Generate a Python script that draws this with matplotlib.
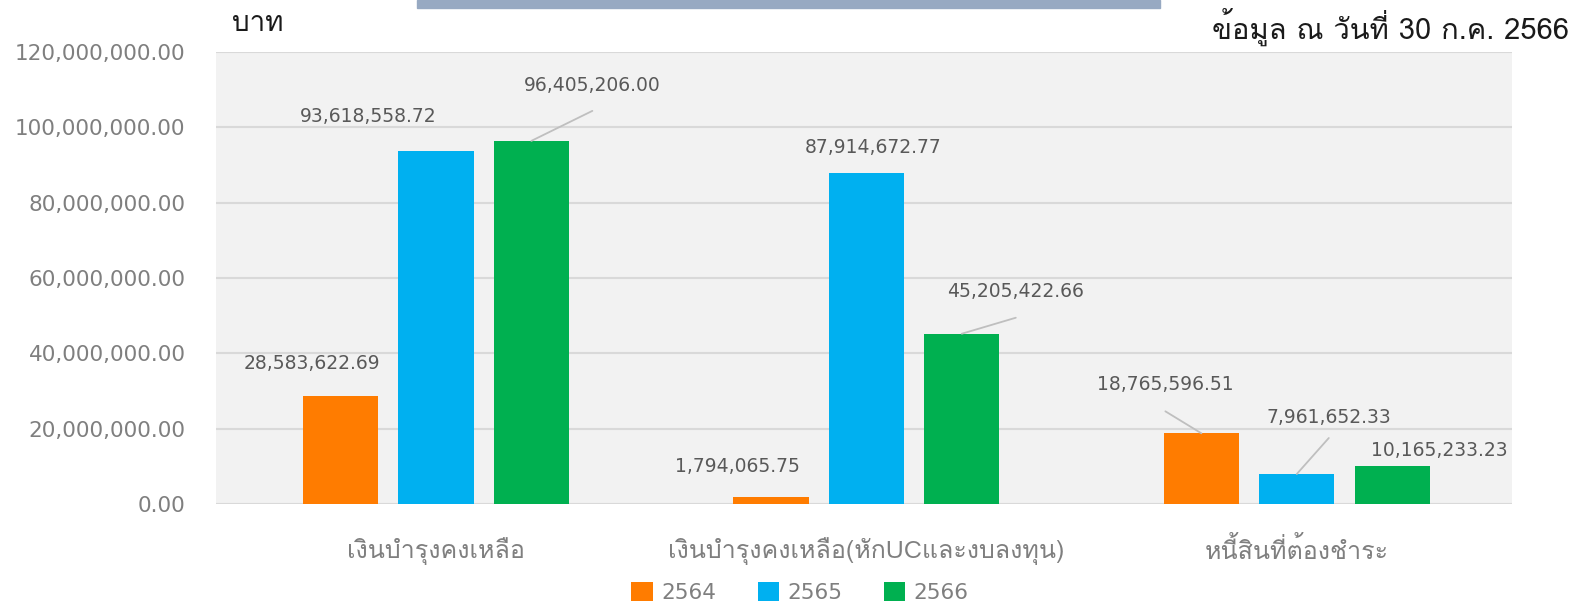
"""
Thai hospital finance bar chart: remaining maintenance funds by year.
"""

import matplotlib
matplotlib.use("Agg")
import matplotlib.pyplot as plt
from matplotlib import font_manager
from matplotlib.ft2font import FT2Font
from matplotlib.patches import Patch, Rectangle

# Data
categories = ["เงินบำรุงคงเหลือ",
              "เงินบำรุงคงเหลือ(หักUCและงบลงทุน)",
              "หนี้สินที่ต้องชำระ"]
years = ["2564", "2565", "2566"]
values_2564 = [28583622.69, 1794065.75, 18765596.51]
values_2565 = [93618558.72, 87914672.77, 7961652.33]
values_2566 = [96405206.00, 45205422.66, 10165233.23]
yticks = [0, 20e6, 40e6, 60e6, 80e6, 100e6, 120e6]

colors = ["#ff7c00", "#00b0f0", "#00b050"]


def find_thai_font():
    # pick any installed font that has Thai glyphs
    for f in font_manager.fontManager.ttflist:
        try:
            if 0x0E07 in FT2Font(f.fname).get_charmap():
                return f.name
        except Exception:
            pass
    return None


thai = find_thai_font()
thai_family = [thai, "DejaVu Sans"] if thai else ["DejaVu Sans"]
num_family = ["DejaVu Sans"]
plt.rcParams["font.family"] = thai_family

fig = plt.figure(figsize=(15.75, 6.08), dpi=100)
ax = fig.add_axes([216 / 1575, 1 - 504 / 608, (1512 - 216) / 1575, (504 - 52) / 608])
ax.set_facecolor("#f2f2f2")

# Bars
series = [values_2564, values_2565, values_2566]
pitch = 0.2217
width = 0.175
for i, vals in enumerate(series):
    xs = [c + (i - 1) * pitch for c in range(len(categories))]
    ax.bar(xs, vals, width=width, color=colors[i], edgecolor="none", zorder=3)

# Data labels: (dx, dy) offsets in pixels, leader line gap below label (None = no line)
label_offsets = [
    [(-29, 33, None), (-34, 31, None), (-36, 49, 27)],
    [(-68, 35, None), (7, 25, None), (32, 57, 21)],
    [(61, 55, 25), (54, 42, 26), (47, 15, None)],
]
for i, vals in enumerate(series):
    for j, v in enumerate(vals):
        x = j + (i - 1) * pitch
        dx, dy, gap = label_offsets[i][j]
        ax.annotate(f"{v:,.2f}", xy=(x, v), xytext=(dx, dy),
                    textcoords="offset pixels", ha="center", va="center",
                    fontsize=13.5, color="#595959", family=num_family, zorder=5)
        if gap is not None:
            ax.annotate("", xy=(x, v), xytext=(dx, dy - gap),
                        textcoords="offset pixels",
                        arrowprops=dict(arrowstyle="-", color="#bfbfbf", lw=1.3,
                                        shrinkA=0, shrinkB=0), zorder=4)

# Axes
ax.set_xlim(-0.511, 2.5)
ax.set_ylim(0, 120e6)
ax.set_yticks(yticks)
ax.set_yticklabels([f"{t:,.2f}" for t in yticks], family=num_family,
                   fontsize=15.5, color="#7f7f7f")
ax.set_xticks(range(len(categories)))
ax.set_xticklabels(categories, fontsize=18, color="#7f7f7f")
ax.tick_params(axis="y", length=0, pad=22)
ax.tick_params(axis="x", length=0, pad=24)
ax.grid(axis="y", color="#d9d9d9", linewidth=1.5, zorder=0)
ax.set_axisbelow(True)
for s in ax.spines.values():
    s.set_visible(False)

# Header
fig.patches.append(Rectangle((417 / 1575, 1 - 8 / 608), (1160 - 417) / 1575, 8 / 608,
                             transform=fig.transFigure, color="#97a9c2", zorder=1))
fig.text(232 / 1575, 1 - 24 / 608, "บาท", fontsize=20, color="#1a1a1a",
         ha="left", va="center")
fig.text(1569 / 1575, 1 - 27 / 608, "ข้อมูล ณ วันที่ 30 ก.ค. 2566", fontsize=21,
         color="#1a1a1a", ha="right", va="center")

# Legend
handles = [Patch(facecolor=c, edgecolor="none") for c in colors]
leg = fig.legend(handles, years, loc="center", bbox_to_anchor=(0.508, 0.026),
                 ncol=3, frameon=False, fontsize=15.5, handlelength=1.0,
                 handleheight=1.0, handletextpad=0.4, columnspacing=1.9)
for t in leg.get_texts():
    t.set_color("#7f7f7f")
    t.set_family(num_family)

plt.savefig("out.png", dpi=100)
plt.close(fig)
